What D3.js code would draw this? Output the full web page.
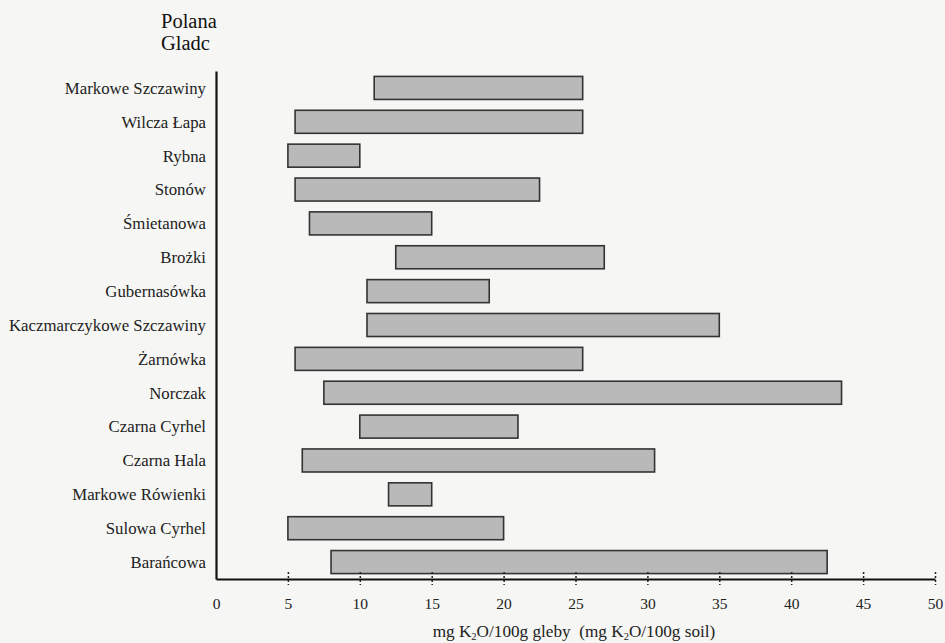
<!DOCTYPE html>
<html><head><meta charset="utf-8">
<script src="https://cdn.jsdelivr.net/npm/d3@7"></script>
<style>body{margin:0;background:#f6f6f4;} svg{display:block;} text{font-family:"Liberation Serif","Tinos","DejaVu Serif",serif;}</style>
</head><body>
<svg id="c" width="945" height="643"></svg>
<script>
const categories = ["Markowe Szczawiny","Wilcza Łapa","Rybna","Stonów","Śmietanowa","Brożki","Gubernasówka","Kaczmarczykowe Szczawiny","Żarnówka","Norczak","Czarna Cyrhel","Czarna Hala","Markowe Rówienki","Sulowa Cyrhel","Barańcowa"];
const minValues = [11, 5.5, 5, 5.5, 6.5, 12.5, 10.5, 10.5, 5.5, 7.5, 10, 6, 12, 5, 8];
const maxValues = [25.5, 25.5, 10, 22.5, 15, 27, 19, 35, 25.5, 43.5, 21, 30.5, 15, 20, 42.5];
const xTicks = [0,5,10,15,20,25,30,35,40,45,50];
const headerLines = ["Polana", "Gladc"];

const svg = d3.select("#c");
const x = d3.scaleLinear().domain([0,50]).range([216,935]);
const y = d3.scaleBand().domain(categories).range([71,579]).paddingInner(0.32).paddingOuter(0.16);

// bars
svg.append("g").selectAll("rect").data(categories).join("rect")
  .attr("x", (d,i)=>x(minValues[i]))
  .attr("y", d=>y(d))
  .attr("width", (d,i)=>x(maxValues[i])-x(minValues[i]))
  .attr("height", y.bandwidth())
  .attr("fill", "#b9b9b9")
  .attr("stroke", "#333")
  .attr("stroke-width", 1.6);

// y axis
const ya = svg.append("g").attr("transform","translate(216,0)")
  .call(d3.axisLeft(y).tickSize(0).tickPadding(10));
ya.attr("font-family",null);
ya.select(".domain").attr("stroke","#111").attr("stroke-width",2.2);
ya.selectAll("text").attr("font-size",16.8).attr("fill","#222").attr("dy","0.35em");

// x axis
const xa = svg.append("g").attr("transform","translate(0,579)")
  .call(d3.axisBottom(x).tickValues(xTicks).tickSize(0).tickPadding(19).tickFormat(d3.format("d")));
xa.attr("font-family",null);
xa.select(".domain").attr("stroke","#111").attr("stroke-width",2.2);
xa.selectAll(".tick").filter(d=>d>0).append("line")
  .attr("y1",-7).attr("y2",6).attr("stroke","#222").attr("stroke-width",1.5).attr("stroke-dasharray","2,2");
xa.selectAll("text").attr("font-size",15.5).attr("fill","#222");

// header
svg.append("text").attr("font-size",20.5).attr("fill","#111")
  .selectAll("tspan").data(headerLines).join("tspan")
  .attr("x",161).attr("y",(d,i)=>28+i*22).text(d=>d);

// axis title with subscripts
const t = svg.append("text").attr("x",574).attr("y",637).attr("text-anchor","middle")
  .attr("font-size",17.2).attr("fill","#222");
t.append("tspan").text("mg K");
t.append("tspan").text("2").attr("font-size",10.5).attr("dy",3);
t.append("tspan").text("O/100g gleby\u00A0\u00A0(mg K").attr("dy",-3);
t.append("tspan").text("2").attr("font-size",10.5).attr("dy",3);
t.append("tspan").text("O/100g soil)").attr("dy",-3);
</script>
</body></html>
